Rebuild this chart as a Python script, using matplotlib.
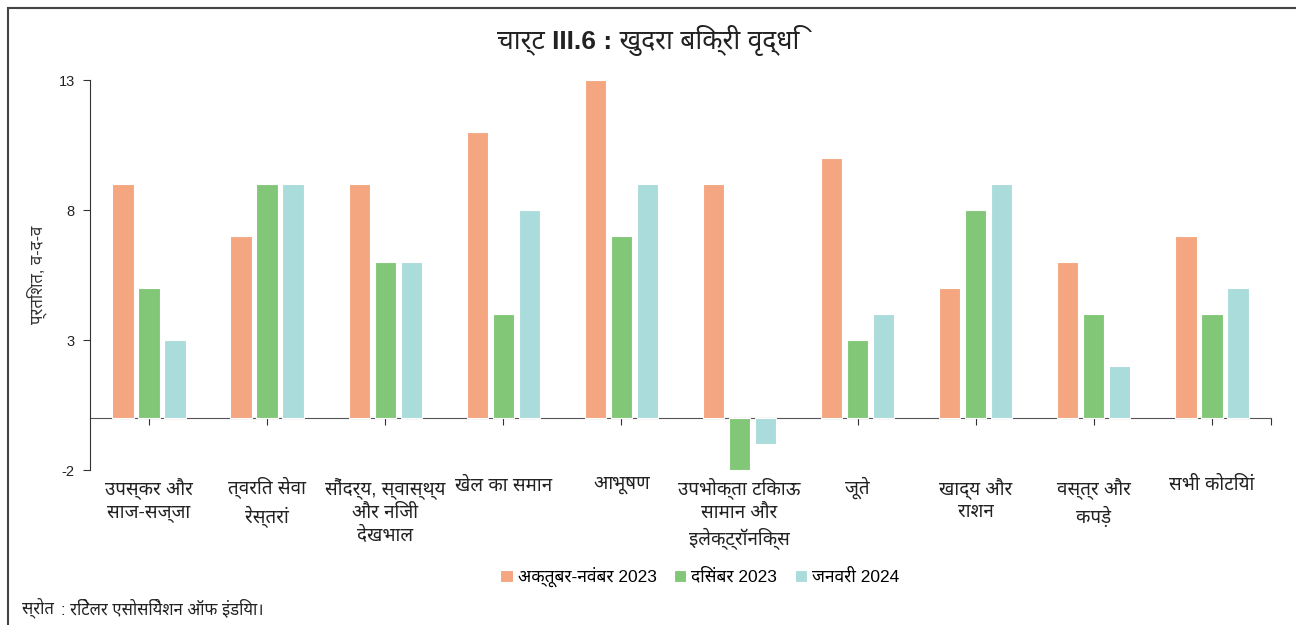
import matplotlib
matplotlib.use("Agg")
import matplotlib.pyplot as plt
import numpy as np
from matplotlib import font_manager
from matplotlib.ft2font import FT2Font
from matplotlib.patches import Rectangle


def find_devanagari():
    # pick an installed font that has Devanagari glyphs, prefer proportional ones
    prefer = ['Noto Sans Devanagari', 'Lohit Devanagari', 'Mukta', 'Hind', 'Gargi',
              'Kalimati', 'FreeSans', 'Nirmala UI', 'Mangal', 'Noto Serif Devanagari']
    found = []
    for f in font_manager.fontManager.ttflist:
        try:
            cmap = FT2Font(f.fname).get_charmap()
        except Exception:
            continue
        if 0x0915 in cmap:
            if f.name in prefer:
                score = prefer.index(f.name)
            elif 'mono' in f.name.lower():
                score = 100
            else:
                score = 50
            found.append((score, f.name))
    if not found:
        return None
    return sorted(found)[0][1]


deva = find_devanagari()
fams = ['Liberation Sans', deva] if deva else ['Liberation Sans']
plt.rcParams['font.family'] = fams
plt.rcParams['axes.unicode_minus'] = False

categories = ["उपस्कर और\nसाज-सज्जा", "त्वरित सेवा\nरेस्तरां",
              "सौंदर्य, स्वास्थ्य\nऔर निजी\nदेखभाल", "खेल का समान", "आभूषण",
              "उपभोक्ता टिकाऊ\nसामान और\nइलेक्ट्रॉनिक्स", "जूते",
              "खाद्य और\nराशन", "वस्त्र और\nकपड़े", "सभी कोटियां"]
oct_nov_2023 = [9, 7, 9, 11, 13, 9, 10, 5, 6, 7]
dec_2023 = [5, 9, 6, 4, 7, -2, 3, 8, 4, 4]
jan_2024 = [3, 9, 6, 8, 9, -1, 4, 9, 2, 5]
series_names = ["अक्तूबर-नवंबर 2023", "दिसंबर 2023", "जनवरी 2024"]
colors = ["#F4A680", "#82C777", "#ABDCDC"]

fig = plt.figure(figsize=(12.96, 6.25), dpi=100)
ax = fig.add_axes([0.0694, 0.248, 0.9113, 0.624])

x = np.arange(len(categories))
w = 0.18
off = 0.22
for i, (vals, name, c) in enumerate(zip([oct_nov_2023, dec_2023, jan_2024], series_names, colors)):
    ax.bar(x + (i - 1) * off, vals, w, color=c, edgecolor='white', linewidth=0.8, label=name, zorder=2)

ax.set_xlim(-0.5, 9.5)
ax.set_ylim(-2, 13)
ax.set_yticks([-2, 3, 8, 13])
ax.tick_params(axis='y', labelsize=10.5, length=5, pad=6, color='#333333', labelcolor='#222222')
for s in ['top', 'right', 'bottom']:
    ax.spines[s].set_visible(False)
ax.spines['left'].set_color('#333333')

ax.set_xticks(x)
ax.set_xticklabels(categories, fontsize=13.5, color='#222222', linespacing=1.4)
ax.tick_params(axis='x', length=0, pad=5)

# zero line with tick marks
sec = ax.secondary_xaxis(2 / 15)
sec.set_xticks(list(x) + [9.5])
sec.set_xticklabels([])
sec.tick_params(length=5, direction='out', color='#333333')
sec.spines['bottom'].set_color('#555555')

ax.set_ylabel("प्रतिशत, व-द-व", fontsize=12, color='#333333', labelpad=8)

fig.text(0.5, 0.935, "चार्ट III.6 : खुदरा बिक्री वृद्धि", ha='center', va='center',
         fontsize=19, fontweight='bold', color='#222222')

ax.legend(loc='center', bbox_to_anchor=(0.54, 0.077), bbox_transform=fig.transFigure,
          ncol=3, frameon=False, fontsize=12.5, handlelength=0.7, handleheight=0.7,
          handletextpad=0.3, columnspacing=1.0)

fig.text(0.017, 0.028, "स्रोत", fontsize=12, fontweight='bold', color='#222222', va='center')
fig.text(0.047, 0.028, ": रिटेलर एसोसियेशन ऑफ इंडिया।", fontsize=12, color='#222222', va='center')

fig.add_artist(Rectangle((0.006, -0.01), 1.0, 0.998, transform=fig.transFigure,
                         fill=False, edgecolor='#444444', linewidth=1.5))

fig.savefig("out.png", dpi=100)
